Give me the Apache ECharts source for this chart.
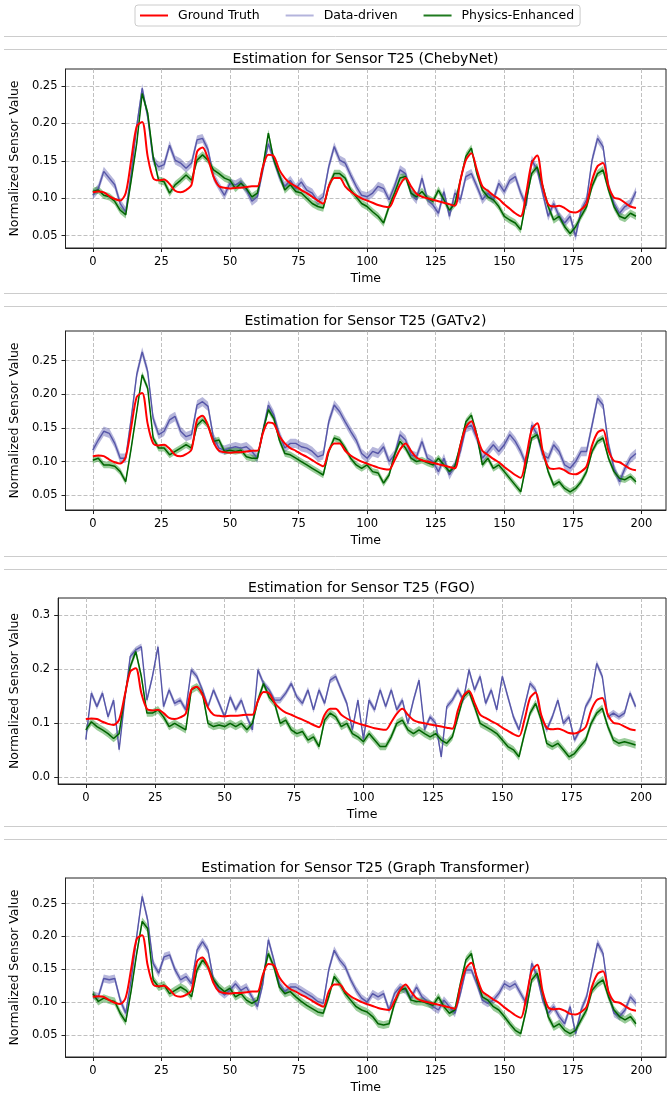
<!DOCTYPE html>
<html>
<head>
<meta charset="utf-8">
<script src="https://cdn.jsdelivr.net/npm/echarts@6/dist/echarts.min.js"></script>
<style>
  html, body { margin: 0; padding: 0; background: #fff; }
  #chart { width: 667px; height: 1096px; }
</style>
</head>
<body>
<div id="chart"></div>
<script>
// sampling grid of the time axis (every second step)
var times = [];
for (var s = 0; s < 200; s += 2) times.push(s);

var xTicks = [0, 25, 50, 75, 100, 125, 150, 175, 200];
var yTicks = [0.05, 0.10, 0.15, 0.20, 0.25];
var yTicksFgo = [0.0, 0.1, 0.2, 0.3];
var models = ['ChebyNet', 'GATv2', 'FGO', 'Graph Transformer'];

// all values below in thousandths of the normalized sensor value
var groundTruth = [
  108,109,108,103,99,97,107,151,196,202,
  156,127,124,125,119,110,108,111,118,162,
  168,153,129,116,114,113,114,114,115,116,
  116,142,158,156,138,127,120,116,111,107,
  102,97,93,116,127,127,116,109,104,100,
  97,94,91,89,88,102,118,127,116,106,
  102,100,98,96,94,92,90,124,151,160,
  138,116,110,104,99,92,86,80,76,107,
  147,157,116,92,89,90,87,82,81,85,
  93,124,143,147,116,101,99,94,89,87
];

var dataCheby = [
  104,113,136,127,118,93,82,133,196,247,
  209,151,142,145,171,151,147,140,147,178,
  180,165,129,116,104,120,118,122,111,96,
  102,138,173,151,129,116,124,113,122,111,
  107,96,102,142,169,151,147,131,116,104,
  102,107,116,113,98,116,138,133,107,98,
  127,98,91,80,109,76,107,98,129,133,
  116,98,107,98,120,109,124,129,107,90,
  151,138,107,76,93,76,67,76,49,84,
  98,151,180,169,116,93,80,89,93,109
];
var physCheby = [
  109,111,104,102,96,84,78,124,173,240,
  214,156,124,122,107,118,124,131,124,151,
  158,151,138,133,127,124,113,120,113,102,
  107,142,187,151,131,111,118,109,107,100,
  93,89,87,116,133,133,127,111,102,93,
  89,82,76,67,89,107,127,129,107,102,
  109,100,96,111,98,84,93,124,156,167,
  133,111,102,98,89,76,71,67,58,98,
  133,142,116,89,71,76,62,53,62,76,
  89,116,133,138,111,89,76,73,80,76
];

var dataGat = [
  117,132,145,142,127,105,105,164,229,263,
  234,164,140,145,162,167,145,137,140,184,
  189,182,135,120,117,120,122,120,122,115,
  105,145,184,169,140,120,127,127,122,120,
  115,107,110,159,184,174,159,145,132,112,
  105,115,112,122,100,110,140,132,110,107,
  130,105,100,85,105,80,95,115,150,154,
  135,105,115,125,115,125,140,130,115,95,
  154,140,110,105,125,115,95,90,100,115,
  115,154,194,184,125,90,70,90,105,112
];
var physGat = [
  102,105,95,95,93,85,70,120,174,229,
  209,135,120,120,110,115,120,125,120,154,
  162,154,130,132,115,117,115,117,107,105,
  105,145,177,164,132,112,110,105,100,95,
  90,85,80,115,135,132,120,105,95,90,
  95,85,83,68,80,110,130,120,105,100,
  102,98,95,105,95,85,93,125,159,169,
  140,95,105,90,95,85,75,65,55,95,
  135,140,115,85,65,70,60,55,60,70,
  85,115,130,135,105,85,75,73,78,70
];

var dataFgo = [
  70,156,131,156,112,143,51,143,224,236,
  242,143,187,242,131,162,137,143,125,199,
  187,162,131,162,137,112,149,125,143,112,
  88,199,174,162,143,143,156,174,149,137,
  162,125,162,137,180,187,162,137,88,143,
  70,143,125,162,131,162,125,143,100,143,
  180,88,112,100,38,131,143,162,143,199,
  162,187,137,162,125,187,149,112,88,131,
  174,162,112,88,112,143,100,112,69,88,
  131,149,211,187,112,119,112,119,156,131
];
var physFgo = [
  88,103,94,88,81,72,81,150,205,233,
  187,119,119,125,112,94,100,94,88,162,
  168,156,100,94,97,94,100,94,100,88,
  100,143,174,149,137,100,106,88,81,85,
  69,75,57,106,119,112,94,100,81,75,
  66,81,69,57,57,75,100,106,88,81,
  88,81,75,81,69,63,75,112,149,159,
  131,100,94,88,81,69,57,51,38,81,
  119,137,106,63,57,63,51,38,44,57,
  69,100,119,128,94,69,63,66,63,60
];

var dataGt = [
  111,108,136,134,136,103,83,134,200,261,
  225,159,144,169,172,149,134,139,128,179,
  192,179,134,118,111,118,128,118,123,108,
  93,128,195,164,128,116,123,123,118,113,
  108,101,98,149,179,164,154,134,118,106,
  100,113,108,113,88,113,123,118,106,123,
  108,101,93,88,103,93,83,113,149,149,
  128,103,98,103,113,128,123,128,113,98,
  159,139,103,83,93,78,67,93,52,88,
  108,149,190,174,113,83,78,88,108,98
];
var physGt = [
  113,101,106,103,101,83,70,118,174,223,
  212,134,123,126,113,118,123,118,108,149,
  164,154,134,123,116,121,108,113,103,98,
  103,139,174,154,123,113,116,108,101,95,
  90,85,83,108,139,128,113,103,93,88,
  85,78,67,65,67,98,118,121,103,101,
  101,98,95,108,93,83,88,128,164,174,
  134,108,103,93,88,78,67,57,52,88,
  134,144,113,78,62,67,57,52,57,73,
  88,118,128,134,108,88,78,73,78,67
];

// half width of the shaded bands, per panel
var spreadData = [6, 7, 6, 6];
var spreadPhys = [5, 5, 7, 6];

var dataSeries = [dataCheby, dataGat, dataFgo, dataGt];
var physSeries = [physCheby, physGat, physFgo, physGt];

var layout = [
  { left: 65, top: 69, width: 601, height: 179, yMin: 0.0336, yMax: 0.2727, ticks: yTicks, digits: 2, nameGap: 37 },
  { left: 65, top: 331, width: 601, height: 179, yMin: 0.028, yMax: 0.294, ticks: yTicks, digits: 2, nameGap: 37 },
  { left: 57, top: 598, width: 609, height: 186, yMin: -0.0124, yMax: 0.3323, ticks: yTicksFgo, digits: 1, nameGap: 29 },
  { left: 65, top: 878, width: 601, height: 179, yMin: 0.0164, yMax: 0.289, ticks: yTicks, digits: 2, nameGap: 37 }
];

var font = 'DejaVu Sans';
var dataColor = '#5656a8';
var dataBand = 'rgba(80,80,170,0.42)';
var physColor = '#006400';
var physBand = 'rgba(0,128,0,0.4)';

function pts(arr) {
  return arr.map(function (v, i) { return [times[i], v / 1000]; });
}
function bandRows(arr, spread) {
  return arr.map(function (v, i) { return [times[i], (v - spread) / 1000, (v + spread) / 1000]; });
}

var grids = [], xAxes = [], yAxes = [], titles = [], series = [];

layout.forEach(function (g, p) {
  grids.push({ left: g.left, top: g.top, width: g.width, height: g.height,
    show: true, borderColor: '#222', borderWidth: 1, backgroundColor: 'transparent' });
  titles.push({
    text: 'Estimation for Sensor T25 (' + models[p] + ')',
    left: g.left + g.width / 2, top: g.top - 17, textAlign: 'center', padding: 0,
    textStyle: { fontFamily: font, fontSize: 14, fontWeight: 'normal', color: '#000' }
  });
  xAxes.push({
    gridIndex: p, type: 'value', min: -9.95, max: 208.95,
    name: 'Time', nameLocation: 'middle', nameGap: 24,
    nameTextStyle: { fontFamily: font, fontSize: 12.5, color: '#000' },
    axisLine: { show: true, onZero: false, lineStyle: { color: '#222', width: 1 } },
    axisTick: { show: true, length: 4, customValues: xTicks, lineStyle: { color: '#222' } },
    axisLabel: { customValues: xTicks, margin: 8, fontFamily: font, fontSize: 11.5, color: '#000' },
    splitLine: { show: true, lineStyle: { color: '#b0b0b0', width: 0.8, type: [4, 2] } }
  });
  yAxes.push({
    gridIndex: p, type: 'value', min: g.yMin, max: g.yMax,
    name: 'Normalized Sensor Value', nameLocation: 'middle', nameGap: g.nameGap,
    nameTextStyle: { fontFamily: font, fontSize: 12.5, color: '#000' },
    axisLine: { show: true, onZero: false, lineStyle: { color: '#222', width: 1 } },
    axisTick: { show: true, length: 4, customValues: g.ticks, lineStyle: { color: '#222' } },
    axisLabel: { customValues: g.ticks, margin: 8, fontFamily: font, fontSize: 11.5, color: '#000',
      formatter: function (v) { return v.toFixed(g.digits); } },
    splitLine: { show: true, lineStyle: { color: '#b0b0b0', width: 0.8, type: [4, 2] } }
  });

  var common = { xAxisIndex: p, yAxisIndex: p, silent: true };

  // shaded band: one polygon through the lower edge and back along the upper edge
  function band(rows, color, key) {
    series.push(Object.assign({}, common, {
      type: 'custom', name: key + '-band-' + p, data: rows, z: 1,
      encode: { x: 0, y: [1, 2] },
      renderItem: function (params, api) {
        if (params.dataIndex !== 0) return null;
        var poly = [];
        rows.forEach(function (r) { poly.push(api.coord([r[0], r[1]])); });
        for (var i = rows.length - 1; i >= 0; i--) poly.push(api.coord([rows[i][0], rows[i][2]]));
        return { type: 'polygon', shape: { points: poly }, style: { fill: color } };
      }
    }));
  }
  band(bandRows(dataSeries[p], spreadData[p]), dataBand, 'dd');
  band(bandRows(physSeries[p], spreadPhys[p]), physBand, 'pe');

  series.push(Object.assign({}, common, {
    type: 'line', name: 'Data-driven', data: pts(dataSeries[p]), symbol: 'none',
    lineStyle: { color: dataColor, width: 1.4 }, itemStyle: { color: '#b4b4dc' }, z: 2
  }));
  series.push(Object.assign({}, common, {
    type: 'line', name: 'Physics-Enhanced', data: pts(physSeries[p]), symbol: 'none',
    lineStyle: { color: physColor, width: 1.5 }, itemStyle: { color: '#1f7a1f' }, z: 3
  }));
  series.push(Object.assign({}, common, {
    type: 'line', name: 'Ground Truth', data: pts(groundTruth), symbol: 'none', smooth: 0.3,
    lineStyle: { color: '#ff0000', width: 2 }, itemStyle: { color: '#ff0000' }, z: 4
  }));
});

var sepY = [36.5, 49.5, 293.5, 306.5, 556.5, 569.5, 826.5, 839.5];
var graphics = sepY.map(function (y) {
  return { type: 'line', shape: { x1: 4, y1: y, x2: 667, y2: y }, style: { stroke: '#cccccc', lineWidth: 1 }, silent: true };
});

var chart = echarts.init(document.getElementById('chart'), null, { renderer: 'canvas' });
chart.setOption({
  animation: false,
  backgroundColor: '#fff',
  title: titles,
  legend: {
    left: 135, top: 5, padding: [4, 6, 4, 5], itemGap: 26,
    itemWidth: 28, itemHeight: 2, icon: 'rect',
    borderColor: '#cccccc', borderWidth: 1, borderRadius: 3, backgroundColor: '#fff',
    textStyle: { fontFamily: font, fontSize: 12.5, color: '#000', padding: [0, 0, 0, 5] },
    data: [
      { name: 'Ground Truth', itemStyle: { color: '#ff0000' } },
      { name: 'Data-driven', itemStyle: { color: '#b4b4dc' } },
      { name: 'Physics-Enhanced', itemStyle: { color: '#1f7a1f' } }
    ]
  },
  grid: grids,
  xAxis: xAxes,
  yAxis: yAxes,
  series: series,
  graphic: graphics
});
</script>
</body>
</html>
